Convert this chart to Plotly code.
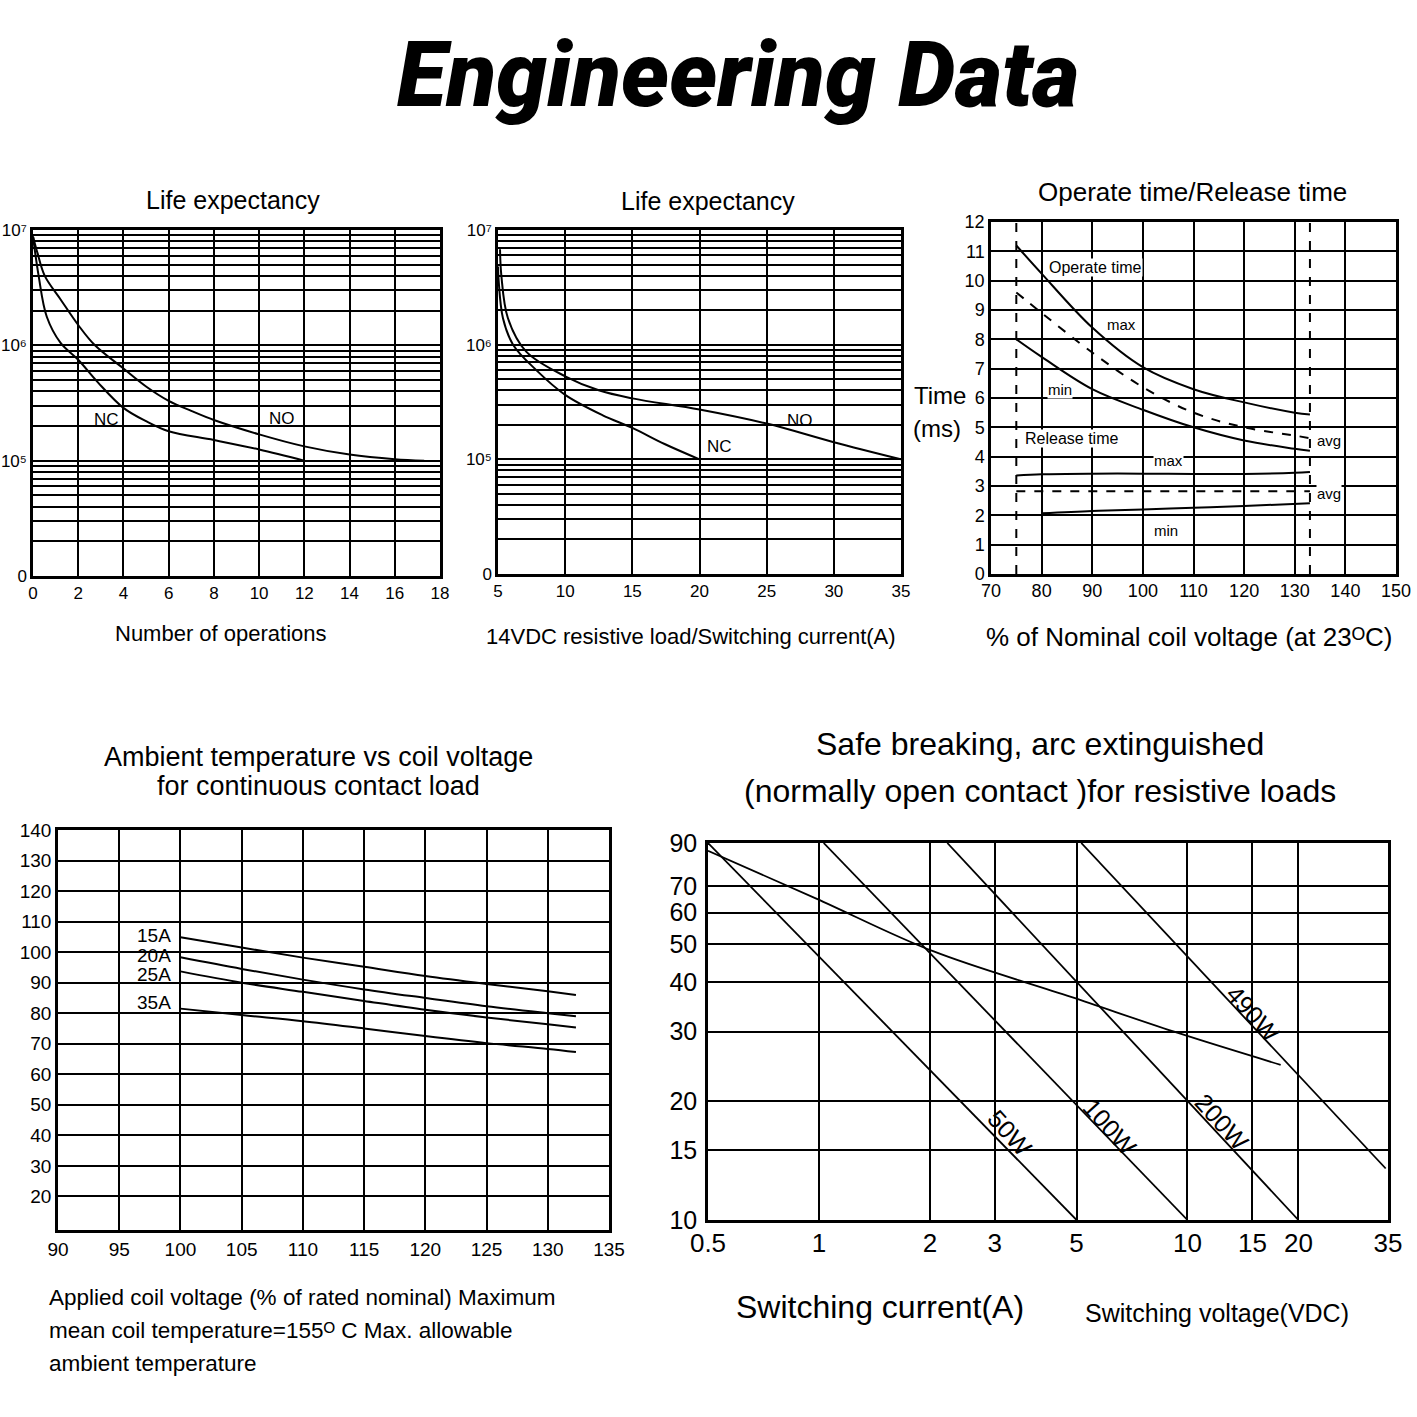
import math
import plotly.graph_objects as go

FONT = "Liberation Sans, Arial, Helvetica, DejaVu Sans, sans-serif"
TITLE_FONT = "Roboto, Liberation Sans, sans-serif"
W = H = 1417

# ---------------- Panel 1: Life expectancy vs number of operations ----------------
ops_no_x = [0, 0.2, 0.52, 1.22, 2, 2.74, 4, 5, 6, 7, 8, 10, 12, 14, 16, 17.3]
ops_no_y = [8.8e6, 6.3e6, 4.0e6, 2.5e6, 1.5e6, 1.0e6, 6.3e5, 4.4e5, 3.3e5, 2.7e5,
            2.25e5, 1.69e5, 1.33e5, 1.13e5, 1.03e5, 1.0e5]
ops_nc_x = [0, 0.25, 0.61, 1.22, 2, 2.86, 4, 5, 6, 8, 10, 12]
ops_nc_y = [8.8e6, 4.0e6, 1.77e6, 1.05e6, 7.5e5, 4.8e5, 2.87e5, 2.2e5, 1.8e5, 1.51e5, 1.25e5, 1.0e5]
ops_ticks = [0, 2, 4, 6, 8, 10, 12, 14, 16, 18]

# ---------------- Panel 2: Life expectancy vs switching current ----------------
cur_no_x = [5.15, 5.25, 5.74, 7.1, 10, 12.5, 15, 20, 25, 30, 35]
cur_no_y = [6.8e6, 4.0e6, 1.7e6, 8.7e5, 5.3e5, 4.0e5, 3.4e5, 2.72e5, 2.05e5, 1.41e5, 1.0e5]
cur_nc_x = [5.0, 5.05, 5.37, 6.12, 7.85, 10, 12.8, 15, 17.4, 20]
cur_nc_y = [4.8e6, 3.6e6, 1.7e6, 1.0e6, 6.0e5, 3.65e5, 2.42e5, 1.88e5, 1.36e5, 1.0e5]
cur_ticks = [5, 10, 15, 20, 25, 30, 35]

# shared log grid for the life-expectancy panels
life_tickvals = [1e4, 1e5, 1e6, 1e7]
life_ticktext = ["0", "10\u2075", "10\u2076", "10\u2077"]
life_decades = [4, 5, 6]
life_minor_mults = [2, 3, 4, 5, 6, 7, 8, 9]
life_minor = [m * 10 ** d for d in life_decades for m in life_minor_mults]

# ---------------- Panel 3: Operate / release time ----------------
op_x = [75, 80, 90, 100, 110, 120, 130, 133]
op_max = [11.2, 10.24, 8.4, 7.05, 6.3, 5.85, 5.5, 5.44]
op_avg = [9.6, 8.9, 7.55, 6.37, 5.5, 5.0, 4.72, 4.63]
op_min = [8.0, 7.4, 6.3, 5.6, 5.0, 4.55, 4.27, 4.2]
rel_max_x = [75, 80, 90, 100, 110, 120, 130, 133]
rel_max = [3.36, 3.40, 3.42, 3.42, 3.41, 3.41, 3.45, 3.48]
rel_avg_x = [75, 133]
rel_avg = [2.82, 2.82]
rel_min_x = [80, 90, 100, 110, 120, 133]
rel_min = [2.07, 2.15, 2.2, 2.26, 2.32, 2.41]
coil_limits = [75, 133]

# ---------------- Panel 4: Ambient temperature vs coil voltage ----------------
amb_x = [100, 105, 110, 115, 120, 125, 130, 132.3]
amb_15a = [104.9, 101.5, 98.2, 95.2, 92.2, 89.6, 87.2, 86.0]
amb_20a = [98.3, 94.5, 91.0, 87.8, 85.0, 82.3, 80.0, 79.0]
amb_25a = [93.7, 90.0, 87.0, 84.0, 81.1, 78.6, 76.4, 75.3]
amb_35a = [81.5, 79.4, 77.4, 75.0, 72.5, 70.2, 68.3, 67.3]
amb_xticks = [90, 95, 100, 105, 110, 115, 120, 125, 130, 135]
amb_yticks = [20, 30, 40, 50, 60, 70, 80, 90, 100, 110, 120, 130, 140]
amb_labels = ["15A", "20A", "25A", "35A"]
amb_label_y = [105.5, 98.9, 92.6, 83.4]

# ---------------- Panel 5: Safe breaking ----------------
brk_50w_x = [0.5, 5]
brk_50w_y = [90, 10]
brk_100w_x = [1.03, 10]
brk_100w_y = [90, 10]
brk_200w_x = [2.23, 20]
brk_200w_y = [90, 10]
brk_490w_x = [5.15, 34.5]
brk_490w_y = [90, 13.5]
arc_x = [0.5, 0.98, 2.04, 4.83, 9.47, 17.9]
arc_y = [86.0, 65.2, 47.9, 36.7, 29.7, 24.7]
brk_xticks = [0.5, 1, 2, 3, 5, 10, 15, 20, 35]
brk_yticks = [10, 15, 20, 30, 40, 50, 60, 70, 90]
brk_labels = ["50W", "100W", "200W", "490W"]
brk_label_x = [3.3, 6.16, 12.4, 15.1]
brk_label_y = [16.6, 17.2, 17.7, 33.2]


def xd(a, b):
    return [a / W, b / W]


def yd(top, bottom):
    return [1 - bottom / H, 1 - top / H]


def axis(domain, size, **kw):
    d = dict(domain=domain, showline=True, linecolor="black", linewidth=2.5, mirror=True,
             showgrid=True, gridcolor="black", gridwidth=2, zeroline=False, ticks="",
             automargin=False,
             tickfont=dict(family=FONT, size=size, color="black"), fixedrange=True)
    d.update(kw)
    return d


fig = go.Figure()


def line(x, y, xa, ya, dash="solid", width=2, shape="spline"):
    fig.add_trace(go.Scatter(x=x, y=y, mode="lines", xaxis=xa, yaxis=ya,
                             line=dict(color="black", width=width, dash=dash, shape=shape),
                             showlegend=False, hoverinfo="skip"))


# panel 1
line(ops_no_x, ops_no_y, "x", "y")
line(ops_nc_x, ops_nc_y, "x", "y")
# panel 2
line(cur_no_x, cur_no_y, "x2", "y2")
line(cur_nc_x, cur_nc_y, "x2", "y2")
# panel 3
for v in coil_limits:
    line([v, v], [0, 12], "x3", "y3", dash="dash", width=2, shape="linear")
line(op_x, op_max, "x3", "y3")
line(op_x, op_avg, "x3", "y3", dash="dash")
line(op_x, op_min, "x3", "y3")
line(rel_max_x, rel_max, "x3", "y3")
line(rel_avg_x, rel_avg, "x3", "y3", dash="dash", shape="linear")
line(rel_min_x, rel_min, "x3", "y3")
# panel 4
for ys in (amb_15a, amb_20a, amb_25a, amb_35a):
    line(amb_x, ys, "x4", "y4")
# panel 5
for xs, ys in ((brk_50w_x, brk_50w_y), (brk_100w_x, brk_100w_y), (brk_200w_x, brk_200w_y),
               (brk_490w_x, brk_490w_y)):
    line(xs, ys, "x5", "y5", width=1.8, shape="linear")
line(arc_x, arc_y, "x5", "y5", width=1.8)

life_minor_cfg = dict(tickvals=life_minor, showgrid=True, gridcolor="black", gridwidth=2, ticks="")

fig.update_layout(
    width=W, height=H, margin=dict(l=0, r=0, t=0, b=0, autoexpand=False),
    paper_bgcolor="white", plot_bgcolor="white", showlegend=False,
    xaxis=axis(xd(33, 440), 17, range=[0, 18], tickvals=ops_ticks, anchor="y", ticklabelstandoff=0),
    yaxis=axis(yd(230, 576), 17, type="log", range=[4, 7], tickvals=life_tickvals,
               ticktext=life_ticktext, anchor="x", minor=life_minor_cfg),
    xaxis2=axis(xd(498, 901), 17, range=[5, 35], tickvals=cur_ticks, anchor="y2", ticklabelstandoff=0),
    yaxis2=axis(yd(230, 574), 17, type="log", range=[4, 7], tickvals=life_tickvals,
                ticktext=life_ticktext, anchor="x2", minor=life_minor_cfg),
    xaxis3=axis(xd(991, 1396), 18, range=[70, 150], dtick=10, anchor="y3", ticklabelstandoff=-1),
    yaxis3=axis(yd(222, 574), 18, range=[0, 12], dtick=1, anchor="x3"),
    xaxis4=axis(xd(58, 609), 19, range=[90, 135], tickvals=amb_xticks, anchor="y4", ticklabelstandoff=0),
    yaxis4=axis(yd(830, 1230), 19, range=[9, 140], tickvals=amb_yticks, anchor="x4"),
    xaxis5=axis(xd(708, 1388), 26, type="log", range=[math.log10(0.5), math.log10(35)],
                tickvals=brk_xticks, ticktext=[str(v) for v in brk_xticks], anchor="y5",
                ticklabelstandoff=-2),
    yaxis5=axis(yd(843, 1220), 25, type="log", range=[1, math.log10(90)],
                tickvals=brk_yticks, ticktext=[str(v) for v in brk_yticks], anchor="x5",
                ticklabelstandoff=3),
)


def ptext(text, px, py, size, anchor="center", **kw):
    fig.add_annotation(text=text, x=px / W, y=1 - py / H, xref="paper", yref="paper",
                       showarrow=False, xanchor=anchor, yanchor="middle",
                       font=dict(family=kw.pop("family", FONT), size=size, color="black",
                                 **kw))


def dtext(text, x, y, xa, ya, size, anchor="center", bg=None, angle=0):
    fig.add_annotation(text=text, x=x, y=y, xref=xa, yref=ya, showarrow=False,
                       xanchor=anchor, yanchor="middle", textangle=angle,
                       bgcolor=bg, borderpad=0,
                       font=dict(family=FONT, size=size, color="black"))


# headline
ptext("Engineering Data", 738, 75, 91, family=TITLE_FONT, weight=900, style="italic")

# panel titles and axis captions
ptext("Life expectancy", 233, 200, 25)
ptext("Life expectancy", 708, 201, 25)
ptext("Operate time/Release time", 1192, 192, 26)
ptext("Number of operations", 221, 633, 22)
ptext("14VDC resistive load/Switching current(A)", 691, 636, 22)
ptext("% of Nominal coil voltage (at 23\u1d3cC)", 1189, 637, 26)
ptext("Time", 940, 395, 24)
ptext("(ms)", 937, 428, 24)
ptext("Ambient temperature vs coil voltage", 318, 757, 27)
ptext("for continuous contact load", 318, 786, 27)
ptext("Applied coil voltage (% of rated nominal) Maximum", 47, 1297, 22.5, anchor="left")
ptext("mean coil temperature=155\u1d3c C Max. allowable", 47, 1330, 22.5, anchor="left")
ptext("ambient temperature", 47, 1363, 22.5, anchor="left")
ptext("Safe breaking, arc extinguished", 1040, 744, 32)
ptext("(normally open contact )for resistive loads", 1040, 791, 32)
ptext("Switching current(A)", 880, 1307, 32)
ptext("Switching voltage(VDC)", 1217, 1313, 25)

# panel 1 / 2 curve labels
dtext("NC", 3.23, math.log10(2.29e5), "x", "y", 17)
dtext("NO", 11.0, math.log10(2.3e5), "x", "y", 17)
dtext("NO", 27.5, math.log10(2.19e5), "x2", "y2", 17)
dtext("NC", 21.5, math.log10(1.29e5), "x2", "y2", 17)

# panel 3 labels
dtext("Operate time", 81.3, 10.46, "x3", "y3", 16, anchor="left", bg="white")
dtext("max", 95.8, 8.5, "x3", "y3", 15, bg="white")
dtext("min", 83.6, 6.28, "x3", "y3", 15, bg="white")
dtext("Release time", 76.6, 4.62, "x3", "y3", 16, anchor="left", bg="white")
dtext("max", 105, 3.87, "x3", "y3", 15, bg="white")
dtext("avg", 136.7, 4.55, "x3", "y3", 15, bg="white")
dtext("avg", 136.7, 2.76, "x3", "y3", 15, bg="white")
dtext("min", 104.5, 1.5, "x3", "y3", 15, bg="white")

# panel 4 labels
for lab, ly in zip(amb_labels, amb_label_y):
    dtext(lab, 97.84, ly, "x4", "y4", 19)

# panel 5 labels
for lab, lx, ly in zip(brk_labels, brk_label_x, brk_label_y):
    dtext(lab, math.log10(lx), math.log10(ly), "x5", "y5", 25, angle=48)

fig.write_html("out.html", config={"displayModeBar": False},
               post_script="document.body.style.margin='0px';")
